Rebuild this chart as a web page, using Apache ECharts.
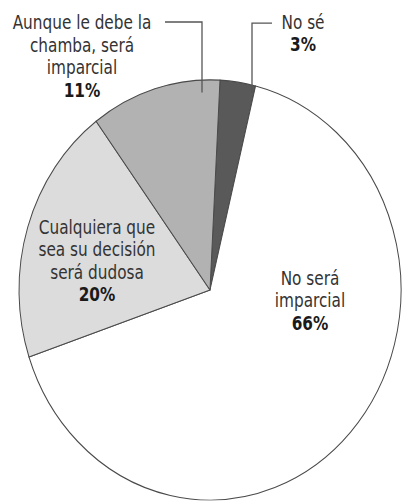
<!DOCTYPE html>
<html><head><meta charset="utf-8">
<script src="https://cdn.jsdelivr.net/npm/echarts@6/dist/echarts.min.js"></script>
<style>
html,body{margin:0;padding:0;background:#fff;width:403px;height:501px;}
#c{width:403px;height:455px;transform:scaleY(1.1);transform-origin:0 0;}
</style></head>
<body><div id="c"></div>
<script>
const categories = ["No sé", "No será imparcial", "Cualquiera que sea su decisión será dudosa", "Aunque le debe la chamba, será imparcial"];
const labelTexts = ["No sé", "No será\nimparcial", "Cualquiera que\nsea su decisión\nserá dudosa", "Aunque le debe la\nchamba, será\nimparcial"];
const values = [3, 66, 20, 11];
const colors = ["#595959", "#ffffff", "#dcdcdc", "#b2b2b2"];
// label anchor positions (chart pixel coords) and leader lines
const labelPos = [[303, 30], [310, 273], [97, 237], [82, 51]];
const leaderLines = [
  [[252, 84], [252, 21], [272, 21]],
  [[202, 84], [202, 20], [165, 20]]
];

const chart = echarts.init(document.getElementById('c'), null, {renderer: 'svg'});
const font = '"Liberation Sans Narrow","DejaVu Sans Condensed",sans-serif';
chart.setOption({
  animation: false,
  graphic: leaderLines.map(function (pts) {
    return {type: 'polyline', shape: {points: pts}, style: {stroke: '#555', lineWidth: 1.3, fill: null}, z: 10};
  }),
  series: [{
    type: 'pie',
    center: [210, 263.6],
    radius: 191,
    startAngle: 87,
    clockwise: true,
    avoidLabelOverlap: false,
    itemStyle: {borderColor: '#4a4a4a', borderWidth: 1},
    label: {
      show: true,
      position: 'inside',
      formatter: function (p) { return '{n|' + labelTexts[p.dataIndex].split('\n').join('}\n{n|') + '}\n{p|' + p.value + '%}'; },
      align: 'center',
      rich: {
        n: {fontFamily: font, fontSize: 17, color: '#333', lineHeight: 20.5, align: 'center', width: 160},
        p: {fontFamily: font, fontSize: 17, fontWeight: 'bold', color: '#1a1a1a', lineHeight: 20.5, align: 'center', width: 160}
      }
    },
    labelLine: {show: false},
    labelLayout: function (params) {
      const i = params.dataIndex;
      return {x: labelPos[i][0], y: labelPos[i][1], align: 'center', verticalAlign: 'middle'};
    },
    data: values.map(function (v, i) {
      return {name: categories[i], value: v, itemStyle: {color: colors[i]}};
    })
  }]
});
</script></body></html>
